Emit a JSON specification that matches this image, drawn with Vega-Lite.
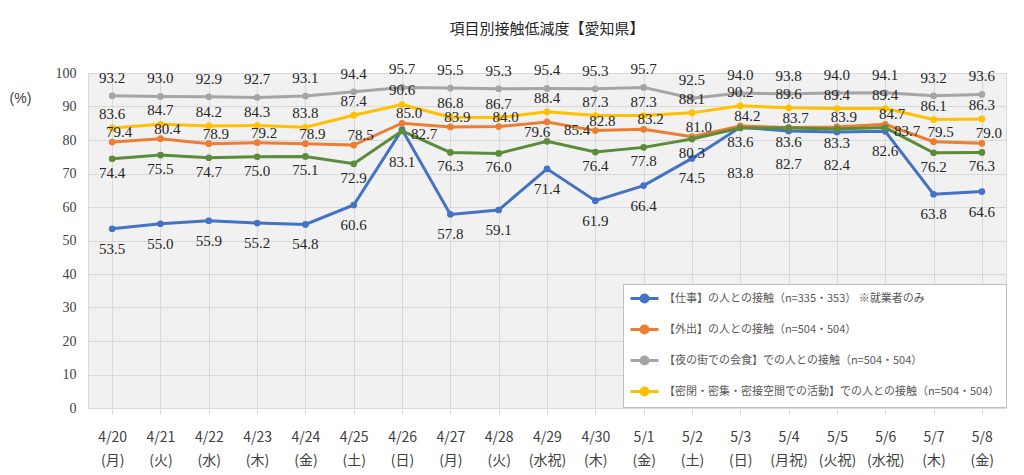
{
  "$schema": "https://vega.github.io/schema/vega-lite/v6.json",
  "autosize": "none",
  "width": 918,
  "height": 335,
  "padding": {"top": 73, "left": 88, "right": 18, "bottom": 67},
  "background": "white",
  "title": {
    "text": "項目別接触低減度【愛知県】",
    "font": "Noto Sans CJK JP",
    "fontSize": 15,
    "fontWeight": "normal",
    "color": "#262626",
    "anchor": "middle",
    "offset": 25
  },
  "config": {
    "view": {"fill": "#f1f1f1", "stroke": "#d9d9d9"},
    "font": "Noto Sans CJK JP"
  },
  "data": {
    "values": [
      {"date": "4/20 (月)", "item": "仕事", "value": 53.5},
      {"date": "4/21 (火)", "item": "仕事", "value": 55.0},
      {"date": "4/22 (水)", "item": "仕事", "value": 55.9},
      {"date": "4/23 (木)", "item": "仕事", "value": 55.2},
      {"date": "4/24 (金)", "item": "仕事", "value": 54.8},
      {"date": "4/25 (土)", "item": "仕事", "value": 60.6},
      {"date": "4/26 (日)", "item": "仕事", "value": 83.1},
      {"date": "4/27 (月)", "item": "仕事", "value": 57.8},
      {"date": "4/28 (火)", "item": "仕事", "value": 59.1},
      {"date": "4/29 (水祝)", "item": "仕事", "value": 71.4},
      {"date": "4/30 (木)", "item": "仕事", "value": 61.9},
      {"date": "5/1 (金)", "item": "仕事", "value": 66.4},
      {"date": "5/2 (土)", "item": "仕事", "value": 74.5},
      {"date": "5/3 (日)", "item": "仕事", "value": 83.8},
      {"date": "5/4 (月祝)", "item": "仕事", "value": 82.7},
      {"date": "5/5 (火祝)", "item": "仕事", "value": 82.4},
      {"date": "5/6 (水祝)", "item": "仕事", "value": 82.6},
      {"date": "5/7 (木)", "item": "仕事", "value": 63.8},
      {"date": "5/8 (金)", "item": "仕事", "value": 64.6},
      {"date": "4/20 (月)", "item": "外出", "value": 79.4},
      {"date": "4/21 (火)", "item": "外出", "value": 80.4},
      {"date": "4/22 (水)", "item": "外出", "value": 78.9},
      {"date": "4/23 (木)", "item": "外出", "value": 79.2},
      {"date": "4/24 (金)", "item": "外出", "value": 78.9},
      {"date": "4/25 (土)", "item": "外出", "value": 78.5},
      {"date": "4/26 (日)", "item": "外出", "value": 85.0},
      {"date": "4/27 (月)", "item": "外出", "value": 83.9},
      {"date": "4/28 (火)", "item": "外出", "value": 84.0},
      {"date": "4/29 (水祝)", "item": "外出", "value": 85.4},
      {"date": "4/30 (木)", "item": "外出", "value": 82.8},
      {"date": "5/1 (金)", "item": "外出", "value": 83.2},
      {"date": "5/2 (土)", "item": "外出", "value": 81.0},
      {"date": "5/3 (日)", "item": "外出", "value": 84.2},
      {"date": "5/4 (月祝)", "item": "外出", "value": 83.7},
      {"date": "5/5 (火祝)", "item": "外出", "value": 83.9},
      {"date": "5/6 (水祝)", "item": "外出", "value": 84.7},
      {"date": "5/7 (木)", "item": "外出", "value": 79.5},
      {"date": "5/8 (金)", "item": "外出", "value": 79.0},
      {"date": "4/20 (月)", "item": "夜の街", "value": 93.2},
      {"date": "4/21 (火)", "item": "夜の街", "value": 93.0},
      {"date": "4/22 (水)", "item": "夜の街", "value": 92.9},
      {"date": "4/23 (木)", "item": "夜の街", "value": 92.7},
      {"date": "4/24 (金)", "item": "夜の街", "value": 93.1},
      {"date": "4/25 (土)", "item": "夜の街", "value": 94.4},
      {"date": "4/26 (日)", "item": "夜の街", "value": 95.7},
      {"date": "4/27 (月)", "item": "夜の街", "value": 95.5},
      {"date": "4/28 (火)", "item": "夜の街", "value": 95.3},
      {"date": "4/29 (水祝)", "item": "夜の街", "value": 95.4},
      {"date": "4/30 (木)", "item": "夜の街", "value": 95.3},
      {"date": "5/1 (金)", "item": "夜の街", "value": 95.7},
      {"date": "5/2 (土)", "item": "夜の街", "value": 92.5},
      {"date": "5/3 (日)", "item": "夜の街", "value": 94.0},
      {"date": "5/4 (月祝)", "item": "夜の街", "value": 93.8},
      {"date": "5/5 (火祝)", "item": "夜の街", "value": 94.0},
      {"date": "5/6 (水祝)", "item": "夜の街", "value": 94.1},
      {"date": "5/7 (木)", "item": "夜の街", "value": 93.2},
      {"date": "5/8 (金)", "item": "夜の街", "value": 93.6},
      {"date": "4/20 (月)", "item": "密閉", "value": 83.6},
      {"date": "4/21 (火)", "item": "密閉", "value": 84.7},
      {"date": "4/22 (水)", "item": "密閉", "value": 84.2},
      {"date": "4/23 (木)", "item": "密閉", "value": 84.3},
      {"date": "4/24 (金)", "item": "密閉", "value": 83.8},
      {"date": "4/25 (土)", "item": "密閉", "value": 87.4},
      {"date": "4/26 (日)", "item": "密閉", "value": 90.6},
      {"date": "4/27 (月)", "item": "密閉", "value": 86.8},
      {"date": "4/28 (火)", "item": "密閉", "value": 86.7},
      {"date": "4/29 (水祝)", "item": "密閉", "value": 88.4},
      {"date": "4/30 (木)", "item": "密閉", "value": 87.3},
      {"date": "5/1 (金)", "item": "密閉", "value": 87.3},
      {"date": "5/2 (土)", "item": "密閉", "value": 88.1},
      {"date": "5/3 (日)", "item": "密閉", "value": 90.2},
      {"date": "5/4 (月祝)", "item": "密閉", "value": 89.6},
      {"date": "5/5 (火祝)", "item": "密閉", "value": 89.4},
      {"date": "5/6 (水祝)", "item": "密閉", "value": 89.4},
      {"date": "5/7 (木)", "item": "密閉", "value": 86.1},
      {"date": "5/8 (金)", "item": "密閉", "value": 86.3},
      {"date": "4/20 (月)", "item": "その他", "value": 74.4},
      {"date": "4/21 (火)", "item": "その他", "value": 75.5},
      {"date": "4/22 (水)", "item": "その他", "value": 74.7},
      {"date": "4/23 (木)", "item": "その他", "value": 75.0},
      {"date": "4/24 (金)", "item": "その他", "value": 75.1},
      {"date": "4/25 (土)", "item": "その他", "value": 72.9},
      {"date": "4/26 (日)", "item": "その他", "value": 82.7},
      {"date": "4/27 (月)", "item": "その他", "value": 76.3},
      {"date": "4/28 (火)", "item": "その他", "value": 76.0},
      {"date": "4/29 (水祝)", "item": "その他", "value": 79.6},
      {"date": "4/30 (木)", "item": "その他", "value": 76.4},
      {"date": "5/1 (金)", "item": "その他", "value": 77.8},
      {"date": "5/2 (土)", "item": "その他", "value": 80.3},
      {"date": "5/3 (日)", "item": "その他", "value": 83.6},
      {"date": "5/4 (月祝)", "item": "その他", "value": 83.6},
      {"date": "5/5 (火祝)", "item": "その他", "value": 83.3},
      {"date": "5/6 (水祝)", "item": "その他", "value": 83.7},
      {"date": "5/7 (木)", "item": "その他", "value": 76.2},
      {"date": "5/8 (金)", "item": "その他", "value": 76.3}
    ]
  },
  "encoding": {
    "x": {
      "field": "date",
      "type": "ordinal",
      "sort": null,
      "title": null,
      "scale": {"paddingInner": 0, "paddingOuter": 0},
      "axis": {
        "bandPosition": 0,
        "labelAngle": 0,
        "labelExpr": "split(datum.label, ' ')",
        "labelFont": "Liberation Sans Narrow, Noto Sans CJK JP",
        "labelFontSize": 14,
        "labelColor": "#404040",
        "labelLineHeight": 23,
        "labelPadding": 16,
        "tickSize": 6,
        "tickColor": "#d9d9d9",
        "domainColor": "#d9d9d9",
        "grid": true,
        "gridColor": "#d9d9d9"
      }
    },
    "y": {
      "field": "value",
      "type": "quantitative",
      "scale": {"domain": [0, 100]},
      "axis": {
        "values": [0, 10, 20, 30, 40, 50, 60, 70, 80, 90, 100],
        "title": "(%)",
        "titleAngle": 0,
        "titleX": -68,
        "titleY": 25,
        "titleAlign": "center",
        "titleBaseline": "middle",
        "titleFont": "Liberation Sans, Noto Sans CJK JP",
        "titleFontSize": 14,
        "titleFontWeight": "normal",
        "titleColor": "#404040",
        "labelFont": "Liberation Sans Narrow",
        "labelFontSize": 14,
        "labelColor": "#404040",
        "labelPadding": 12,
        "ticks": false,
        "domain": false,
        "gridColor": "#d9d9d9"
      }
    }
  },
  "layer": [
    {
      "mark": {"type": "line", "strokeWidth": 3, "point": {"size": 45, "filled": true}},
      "encoding": {
        "color": {
          "field": "item",
          "type": "nominal",
          "scale": {
            "domain": ["仕事", "外出", "夜の街", "密閉", "その他"],
            "range": ["#4472C4", "#ED7D31", "#A5A5A5", "#FFC000", "#5B8C3A"]
          },
          "legend": {
            "values": ["仕事", "外出", "夜の街", "密閉"],
            "title": null,
            "orient": "none",
            "legendX": 535,
            "legendY": 211,
            "direction": "vertical",
            "padding": 6,
            "strokeColor": "#bfbfbf",
            "fillColor": "white",
            "rowPadding": 12,
            "labelOffset": 18,
            "labelFont": "Noto Sans CJK JP",
            "labelFontSize": 11,
            "labelColor": "#595959",
            "labelLimit": 420,
            "symbolType": "M-1,0H3M0.5,0A0.5,0.5 0 1,0 1.5,0A0.5,0.5 0 1,0 0.5,0",
            "symbolSize": 196,
            "symbolStrokeWidth": 3,
            "labelExpr": "datum.value == '仕事' ? '【仕事】の人との接触（n=335・353） ※就業者のみ' : datum.value == '外出' ? '【外出】の人との接触（n=504・504）' : datum.value == '夜の街' ? '【夜の街での会食】での人との接触（n=504・504）' : '【密閉・密集・密接空間での活動】での人との接触（n=504・504）'"
          }
        }
      }
    },
    {
      "transform": [{"filter": "datum.item == '仕事' && indexof(['4/26 (日)', '5/3 (日)', '5/4 (月祝)', '5/5 (火祝)'], datum.date) < 0"}],
      "mark": {"type": "text", "dy": 20, "font": "Liberation Sans Narrow", "fontSize": 15, "color": "#262626"},
      "encoding": {"text": {"field": "value", "type": "quantitative", "format": ".1f"}}
    },
    {
      "transform": [{"filter": "datum.item == '仕事' && datum.date == '4/26 (日)'"}],
      "mark": {"type": "text", "dy": 32, "font": "Liberation Sans Narrow", "fontSize": 15, "color": "#262626"},
      "encoding": {"text": {"field": "value", "type": "quantitative", "format": ".1f"}}
    },
    {
      "transform": [{"filter": "datum.item == '仕事' && datum.date == '5/3 (日)'"}],
      "mark": {"type": "text", "dy": 46, "font": "Liberation Sans Narrow", "fontSize": 15, "color": "#262626"},
      "encoding": {"text": {"field": "value", "type": "quantitative", "format": ".1f"}}
    },
    {
      "transform": [{"filter": "datum.item == '仕事' && indexof(['5/4 (月祝)', '5/5 (火祝)'], datum.date) >= 0"}],
      "mark": {"type": "text", "dy": 33, "font": "Liberation Sans Narrow", "fontSize": 15, "color": "#262626"},
      "encoding": {"text": {"field": "value", "type": "quantitative", "format": ".1f"}}
    },
    {
      "transform": [{"filter": "datum.item == 'その他' && indexof(['4/26 (日)', '4/29 (水祝)', '5/6 (水祝)'], datum.date) < 0"}],
      "mark": {"type": "text", "dy": 14, "font": "Liberation Sans Narrow", "fontSize": 15, "color": "#262626"},
      "encoding": {"text": {"field": "value", "type": "quantitative", "format": ".1f"}}
    },
    {
      "transform": [{"filter": "datum.item == 'その他' && indexof(['4/26 (日)', '5/6 (水祝)'], datum.date) >= 0"}],
      "mark": {"type": "text", "dx": 22, "dy": 3, "font": "Liberation Sans Narrow", "fontSize": 15, "color": "#262626"},
      "encoding": {"text": {"field": "value", "type": "quantitative", "format": ".1f"}}
    },
    {
      "transform": [{"filter": "datum.item == 'その他' && datum.date == '4/29 (水祝)'"}],
      "mark": {"type": "text", "dx": -10, "dy": -9, "font": "Liberation Sans Narrow", "fontSize": 15, "color": "#262626"},
      "encoding": {"text": {"field": "value", "type": "quantitative", "format": ".1f"}}
    },
    {
      "transform": [{"filter": "datum.item == '外出' && datum.date != '4/29 (水祝)'"}],
      "mark": {"type": "text", "dx": 7, "dy": -10, "font": "Liberation Sans Narrow", "fontSize": 15, "color": "#262626"},
      "encoding": {"text": {"field": "value", "type": "quantitative", "format": ".1f"}}
    },
    {
      "transform": [{"filter": "datum.item == '外出' && datum.date == '4/29 (水祝)'"}],
      "mark": {"type": "text", "dx": 30, "dy": 8, "font": "Liberation Sans Narrow", "fontSize": 15, "color": "#262626"},
      "encoding": {"text": {"field": "value", "type": "quantitative", "format": ".1f"}}
    },
    {
      "transform": [{"filter": "datum.item == '夜の街'"}],
      "mark": {"type": "text", "dy": -18, "font": "Liberation Sans Narrow", "fontSize": 15, "color": "#262626"},
      "encoding": {"text": {"field": "value", "type": "quantitative", "format": ".1f"}}
    },
    {
      "transform": [{"filter": "datum.item == '密閉'"}],
      "mark": {"type": "text", "dy": -14, "font": "Liberation Sans Narrow", "fontSize": 15, "color": "#262626"},
      "encoding": {"text": {"field": "value", "type": "quantitative", "format": ".1f"}}
    }
  ]
}
